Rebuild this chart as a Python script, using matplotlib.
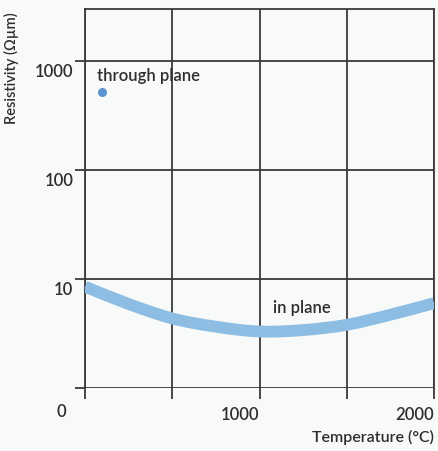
import matplotlib
matplotlib.use("Agg")
import matplotlib.pyplot as plt
import matplotlib.transforms as mtransforms
from matplotlib.path import Path
from matplotlib.patches import PathPatch
import numpy as np

# In-plane resistivity vs temperature
temperature = [0, 250, 500, 750, 1000, 1250, 1500, 1750, 2000]
in_plane = [8.5, 5.9, 4.35, 3.65, 3.3, 3.4, 3.8, 4.7, 6.0]

# Through-plane point
tp_temperature = [100]
tp_resistivity = [520]

x_ticks = [0, 500, 1000, 1500, 2000]
x_labels = ["", "", "1000", "", "2000"]
y_ticks = [1, 10, 100, 1000]
y_labels = ["", "10", "100", "1000"]

bg = "#f7faf8"
grid_c = "#3c3a38"
text_c = "#2e2e2e"
font = "Lato"
weight = "semibold"


def smooth_path(xs, ys):
    """Catmull-Rom curve through the points, as cubic Bezier segments in log-y space."""
    x = np.asarray(xs, float)
    ly = np.log10(np.asarray(ys, float))
    pts = np.column_stack([x, ly])
    ext = np.vstack([2 * pts[0] - pts[1], pts, 2 * pts[-1] - pts[-2]])
    verts = [pts[0]]
    codes = [Path.MOVETO]
    for i in range(1, len(ext) - 2):
        p0, p1, p2, p3 = ext[i - 1], ext[i], ext[i + 1], ext[i + 2]
        c1 = p1 + (p2 - p0) / 6
        c2 = p2 - (p3 - p1) / 6
        verts += [c1, c2, p2]
        codes += [Path.CURVE4] * 3
    verts = np.array(verts)
    verts[:, 1] = 10 ** verts[:, 1]
    return Path(verts, codes)


fig = plt.figure(figsize=(4.38, 4.52), dpi=100, facecolor=bg)
ax = fig.add_axes([85 / 438, 1 - 389 / 452, 349 / 438, 379 / 452])
ax.set_facecolor(bg)

ax.set_yscale("log")
ax.set_xlim(0, 2000)
ax.set_ylim(1, 10 ** ((389 - 10) / 109))

ax.add_patch(PathPatch(smooth_path(temperature, in_plane), facecolor="none",
                       edgecolor="#8dbde3", lw=8.5, capstyle="butt",
                       joinstyle="round", zorder=3))
ax.plot(tp_temperature, tp_resistivity, "o", color="#5b93d1", ms=6.5,
        mec="none", zorder=4)

ax.text(68, 745, "through plane", fontsize=12, color=text_c, family=font,
        weight=weight, ha="left", va="center")
ax.text(1080, 5.5, "in plane", fontsize=12, color=text_c, family=font,
        weight=weight, ha="left", va="center")

# Grid lines drawn as full-width rules
for y in y_ticks:
    ax.axhline(y, color=grid_c, lw=1.3, zorder=2)
for x in x_ticks:
    ax.axvline(x, color=grid_c, lw=1.3, zorder=2)

for side in ["left", "top", "right"]:
    ax.spines[side].set_color(grid_c)
    ax.spines[side].set_linewidth(1.3)
ax.spines["bottom"].set_visible(False)

ax.set_xticks(x_ticks)
ax.set_xticklabels(x_labels)
ax.set_yticks(y_ticks)
ax.set_yticklabels(y_labels)
ax.minorticks_off()
ax.tick_params(axis="x", direction="out", length=8, width=1.3, color=grid_c,
               labelsize=12, labelcolor=text_c, pad=3)
ax.tick_params(axis="y", direction="out", length=7.5, width=1.3, color=grid_c,
               labelsize=12, labelcolor=text_c, pad=1)

for lbl in ax.get_xticklabels():
    lbl.set_family(font)
    lbl.set_weight(weight)
    lbl.set_horizontalalignment("right")
    lbl.set_transform(lbl.get_transform() +
                      mtransforms.ScaledTranslation(0, -2 / 72, fig.dpi_scale_trans))
for lbl in ax.get_yticklabels():
    lbl.set_family(font)
    lbl.set_weight(weight)
    lbl.set_transform(lbl.get_transform() +
                      mtransforms.ScaledTranslation(0, -9 / 100, fig.dpi_scale_trans))

# Origin label
fig.text(61 / 438, 1 - 412 / 452, "0", fontsize=12, color=text_c, family=font,
         weight=weight, ha="center", va="center")

fig.text(11 / 438, 1 - 68 / 452, "Resistivity (\u03a9\u00b5m)", rotation=90,
         fontsize=10.5, color=text_c, family=font, weight=weight,
         ha="center", va="center")
fig.text(434 / 438, 1 - 437 / 452, "Temperature (\u00b0C)", fontsize=11.5,
         color=text_c, family=font, weight=weight, ha="right", va="center")

fig.savefig("out.png", dpi=100, facecolor=bg)
